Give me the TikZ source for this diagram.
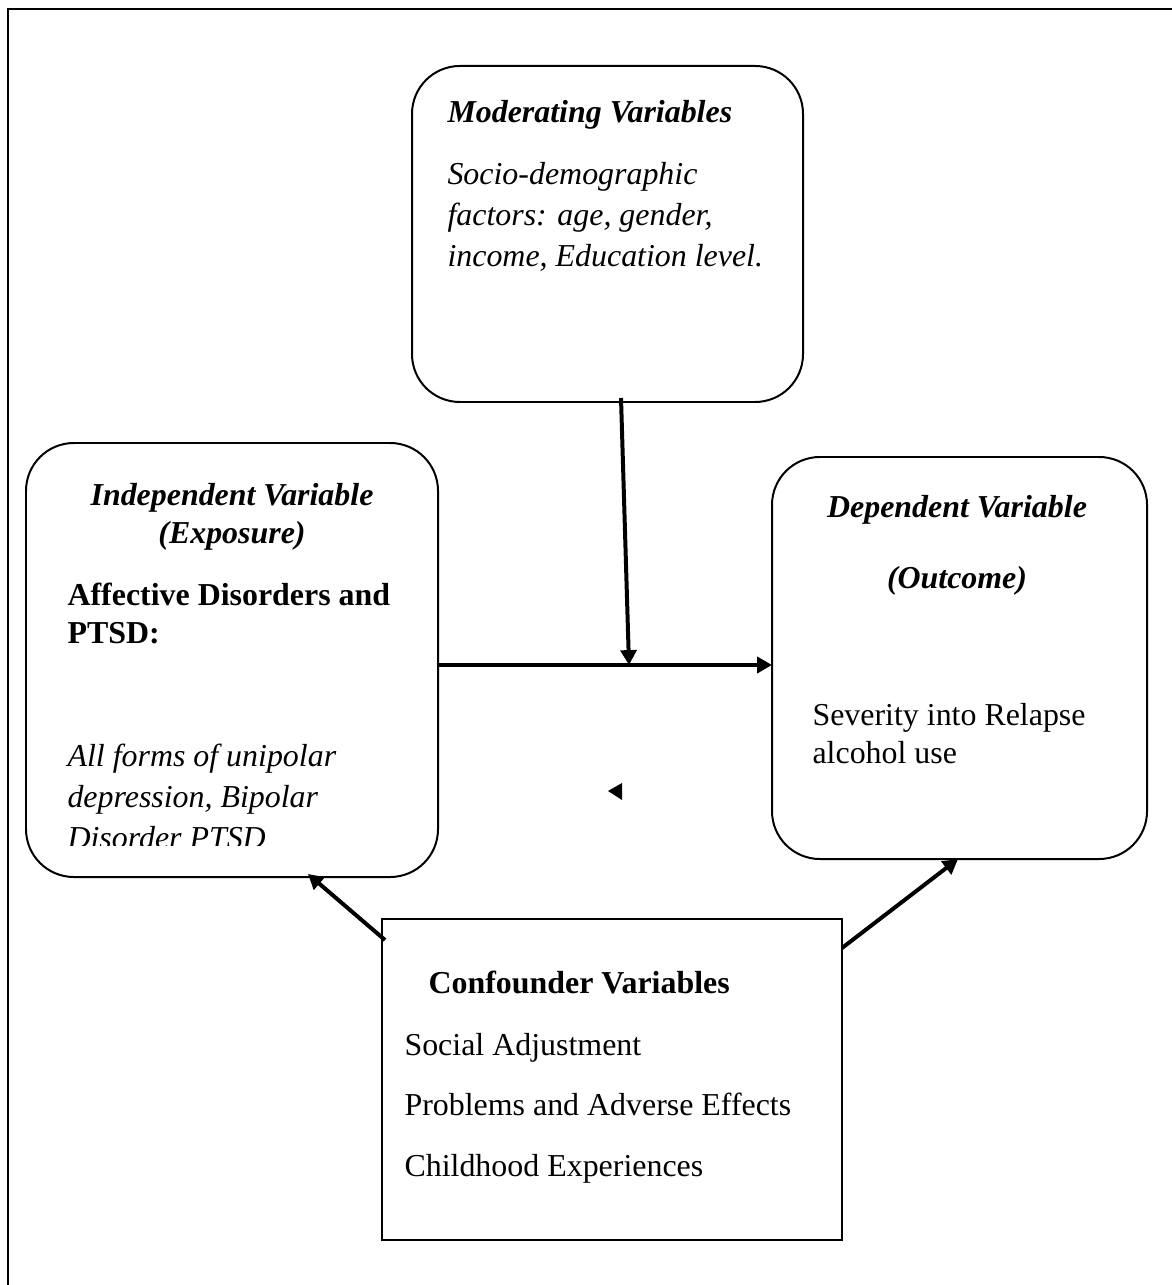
\documentclass[tikz,border=0pt]{standalone}
\usepackage{fontspec}
\setmainfont{Liberation Serif}
\usetikzlibrary{arrows.meta}

\newcommand{\pxl}{0.376pt}

\begin{document}
\begin{tikzpicture}[
    x=\pxl, y=-\pxl,
    rbox/.style ={
        draw=black,
        line width=0.75pt,
        rounded corners=18pt,
        inner sep=0pt,
        outer sep=0pt
    },
    sbox/.style ={
        draw=black,
        line width=0.75pt,
        inner sep=0pt,
        outer sep=0pt
    },
    txt/.style ={inner sep=0pt, anchor=base west, font=\fontsize{12}{14}\selectfont},
    ctxt/.style ={txt, anchor=base},
    arr/.style ={-{Triangle[length=5.6pt,width=6pt]}, line width=1.5pt}
    ]
    \useasboundingbox (0,0) rectangle (1172,1285);
    \draw[line width=1.1pt] (8,1300) -- (8,9) -- (1190,9);

    % boxes
    \node[rbox, minimum width=391*\pxl, minimum height=336*\pxl] (mod) at (607.5,234) {};
    \node[rbox, minimum width=412*\pxl, minimum height=434*\pxl] (indep) at (232,660) {};
    \node[rbox, minimum width=375*\pxl, minimum height=402*\pxl] (dep) at (959.5,658) {};
    \node[sbox, minimum width=460*\pxl, minimum height=321*\pxl] (conf) at (612,1079.5) {};

    % moderating
    \node[txt, font=\fontsize{12}{14}\selectfont\bfseries\itshape] (modhead) at (447,123) {Moderating Variables};
    \foreach \i/ \y/ \txt in {1/185/{Socio-demographic}, 2/226/{factors: age, gender,}, 3/267/{income, Education level.}}
        \node[txt, font=\fontsize{12}{14}\selectfont\itshape] (modl\i) at (447,\y) {\txt};

    % independent
    \node[ctxt, font=\fontsize{12}{14}\selectfont\bfseries\itshape] (indhead) at (232,505) {Independent Variable};
    \node[ctxt, font=\fontsize{12}{14}\selectfont\bfseries\itshape] (indsub) at (232,543) {(Exposure)};
    \node[txt, font=\fontsize{12}{14}\selectfont\bfseries] (indl1) at (67,605) {Affective Disorders and};
    \node[txt, font=\fontsize{12}{14}\selectfont\bfseries] (indl2) at (67,643) {PTSD:};
    \begin{scope}
        \clip (26,443) rectangle (438,845);
        \foreach \i/ \y/ \txt in {3/766/{All forms of unipolar}, 4/807/{depression, Bipolar}, 5/848/{Disorder PTSD}}
            \node[txt, font=\fontsize{12}{14}\selectfont\itshape] (indl\i) at (67,\y) {\txt};
    \end{scope}

    % dependent
    \node[ctxt, font=\fontsize{12}{14}\selectfont\bfseries\itshape] (dephead) at (957,517) {Dependent Variable};
    \node[ctxt, font=\fontsize{12}{14}\selectfont\bfseries\itshape] (depsub) at (957,588) {(Outcome)};
    \node[txt] (depl1) at (812,725) {Severity into Relapse};
    \node[txt] (depl2) at (812,763) {alcohol use};

    % confounders
    \node[txt, font=\fontsize{12}{14}\selectfont\bfseries] (confhead) at (428,993) {Confounder Variables};
    \foreach \i/ \y/ \txt in {1/1055/{Social Adjustment}, 2/1115/{Problems and Adverse Effects}, 3/1176/{Childhood Experiences}}
        \node[txt] (confl\i) at (404,\y) {\txt};

    % arrows
    \coordinate (modout) at (621,398);
    \coordinate (join) at (629,665);
    \coordinate (confoutl) at (385,940);
    \coordinate (confoutr) at (842,948);
    \coordinate (indin) at (308,874);
    \coordinate (depin) at (958,859);

    \draw[arr] (modout) -- (join);
    \draw[arr] (indep.east |- join) -- (dep.west |- join);
    \draw[arr] (confoutl) -- (indin);
    \draw[arr] (confoutr) -- (depin);

    \fill (608,791) -- (622,783) -- (622,800) -- cycle;

\end{tikzpicture}
\end{document}
